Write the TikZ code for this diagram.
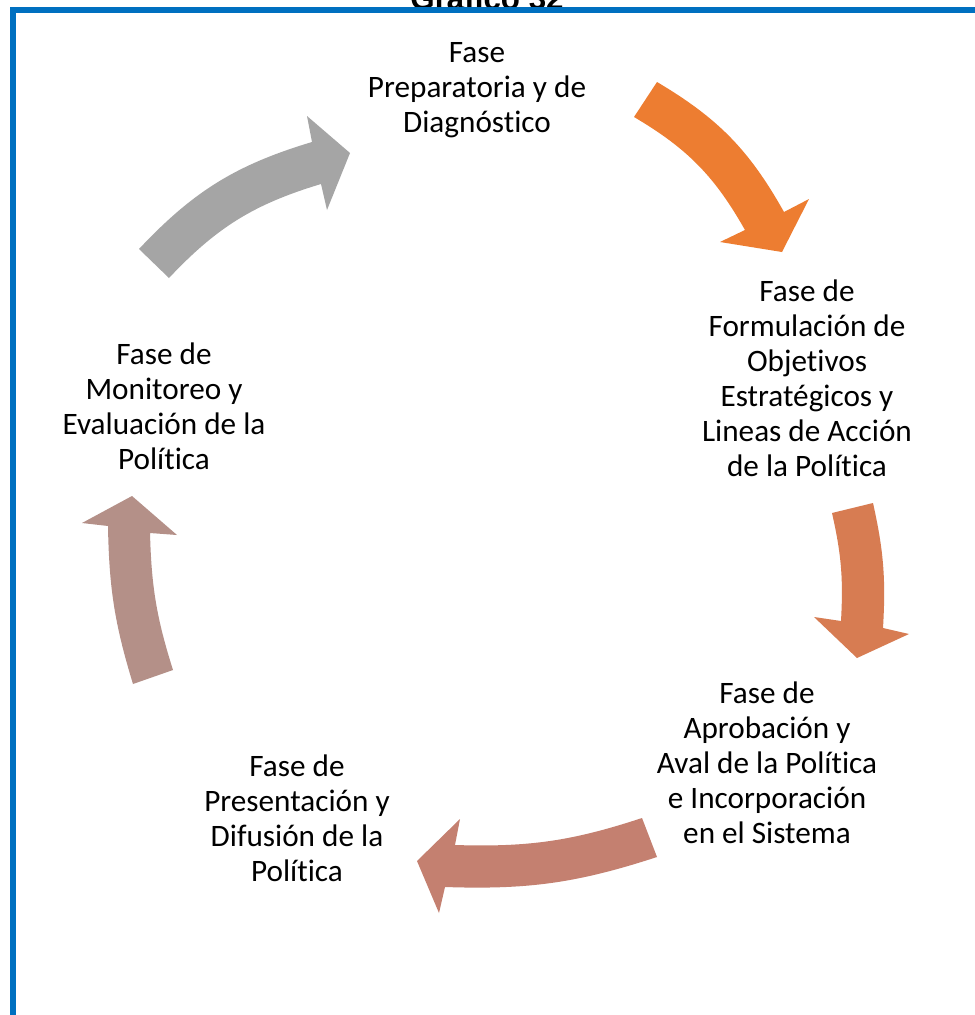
\documentclass[tikz,border=0pt]{standalone}
\usepackage{fontspec}
\setmainfont{Carlito}[Ligatures=NoCommon]
\newfontfamily\titlefont{Liberation Sans}
\definecolor{framebl}{HTML}{0070C0}
\definecolor{arrgray}{HTML}{A5A5A5}
\definecolor{arrorange}{HTML}{ED7D31}
\definecolor{arrright}{HTML}{D77C52}
\definecolor{arrbottom}{HTML}{C48070}
\definecolor{arrleft}{HTML}{B49088}
\begin{document}
\begin{tikzpicture}[x=0.75pt,y=0.75pt,
  phase/.style={inner sep=0pt, anchor=base, font=\fontsize{23.4}{26.25}\selectfont},
  cyclearrow/.style={fill=#1, draw=none}]
\useasboundingbox (0,0) rectangle (975,-1015);
\fill[white] (0,0) rectangle (975,-1015);
\begin{scope}
\clip (0,0) rectangle (975,-1015);
% title
\node[inner sep=0pt, anchor=base, font=\titlefont\bfseries\fontsize{23.5}{28}\selectfont] (title) at (487,-9) {Gráfico 32};
% frame
\draw[framebl, line width=4.5pt] (13,-1030) -- (13,-10) -- (990,-10);
\end{scope}
% phase texts
\node[phase] (p1) at (477,-62) {\begin{tabular}[t]{@{}c@{}}Fase\\Preparatoria y de\\Diagnóstico\end{tabular}};
\node[phase] (p2) at (807,-301) {\begin{tabular}[t]{@{}c@{}}Fase de\\Formulación de\\Objetivos\\Estratégicos y\\Lineas de Acción\\de la Política\end{tabular}};
\node[phase] (p3) at (767,-703) {\begin{tabular}[t]{@{}c@{}}Fase de\\Aprobación y\\Aval de la Política\\e Incorporación\\en el Sistema\end{tabular}};
\node[phase] (p4) at (297,-776) {\begin{tabular}[t]{@{}c@{}}Fase de\\Presentación y\\Difusión de la\\Política\end{tabular}};
\node[phase] (p5) at (164,-364) {\begin{tabular}[t]{@{}c@{}}Fase de\\Monitoreo y\\Evaluación de la\\Política\end{tabular}};
% arrows
\path[cyclearrow=arrorange] (657,-82) to[bend left=15] (784,-212) -- (809,-199) -- (782,-252) -- (720,-242) -- (745,-230) to[bend right=15] (634,-117) -- cycle;
\path[cyclearrow=arrright] (873,-503) to[bend left=8] (883,-628) -- (909,-634) -- (857,-658) -- (814,-617) -- (841,-621) to[bend right=8] (832,-513) -- cycle;
\path[cyclearrow=arrbottom] (657,-857) to[bend left=10] (445,-887) -- (439,-913) -- (417,-861) -- (460,-819) -- (455,-845) to[bend right=10] (642,-818) -- cycle;
\path[cyclearrow=arrleft] (133,-684) to[bend left=8] (108,-526) -- (82,-523) -- (132,-496) -- (177,-535) -- (150,-533) to[bend right=8] (173,-670) -- cycle;
\path[cyclearrow=arrgray] (139,-249) to[bend left=15] (312,-142) -- (307,-116) -- (350,-153) -- (327,-210) -- (321,-184) to[bend right=15] (169,-278) -- cycle;
\end{tikzpicture}
\end{document}
